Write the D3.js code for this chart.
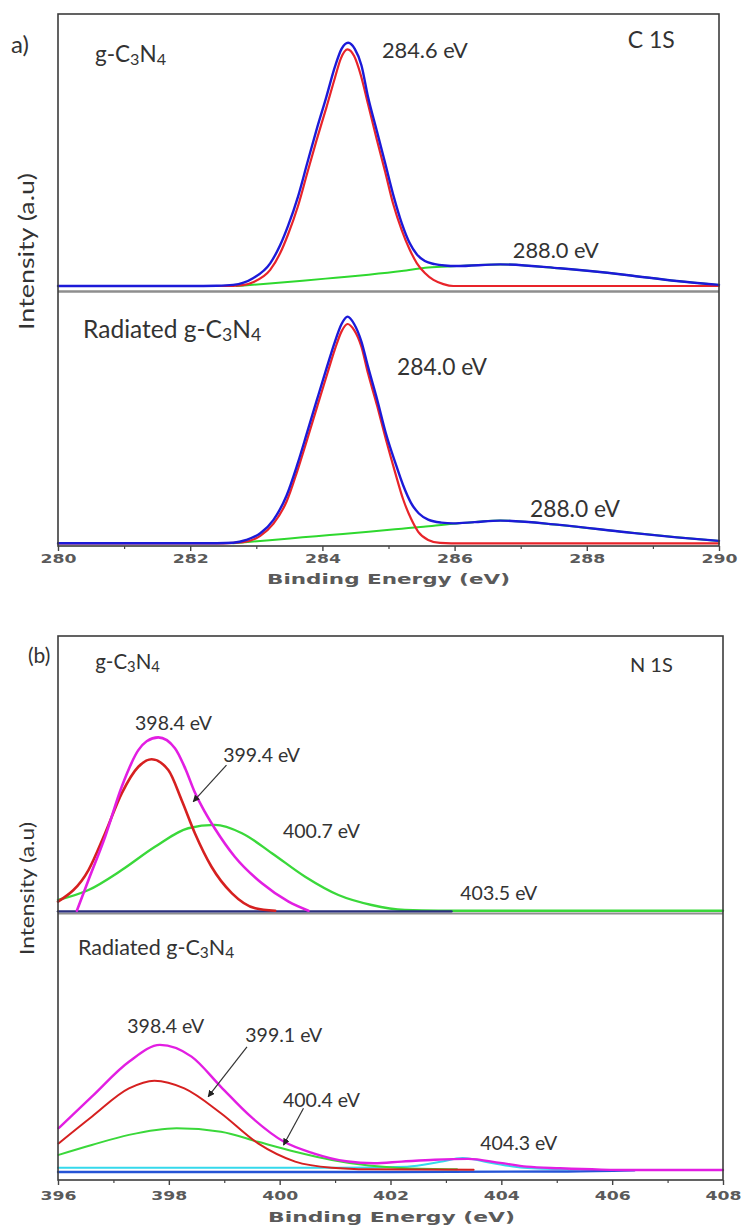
<!DOCTYPE html>
<html>
<head>
<meta charset="utf-8">
<script src="https://cdn.jsdelivr.net/npm/d3@7"></script>
<style>
  body { margin: 0; background: #fff; }
  svg { display: block; }
</style>
</head>
<body>
<svg id="fig" width="745" height="1228"></svg>
<script>
// ---------------- data ----------------
// tick values of the binding-energy axes (eV)
const c1sTicks = [280, 282, 284, 286, 288, 290];
const c1sMinorTicks = [281, 283, 285, 287, 289];
const n1sTicks = [396, 398, 400, 402, 404, 406, 408];
const n1sMinorTicks = [397, 399, 401, 403, 405, 407];

// C 1s, pristine g-C3N4 : [binding energy (eV), intensity (a.u.)]
const c1sPristineEnvelope = [[280,1.8],[282.0,1.8],[282.4,1.9],[282.65,2.2],[282.95,4.6],[283.21,10.0],[283.36,16.5],[283.48,23.5],[283.63,34.0],[283.77,46.1],[283.91,58.1],[284.06,70.1],[284.19,81.0],[284.29,87.4],[284.39,89.6],[284.49,87.4],[284.59,81.5],[284.69,70.1],[284.82,58.1],[284.95,46.1],[285.08,34.0],[285.2,24.5],[285.32,17.3],[285.43,13.2],[285.55,10.8],[285.7,9.7],[285.85,9.2],[286.03,9.0],[286.69,9.6],[287.59,8.2],[288.6,5.8],[289.36,3.6],[290,2.2]];
const c1sPristineCC = [[280,1.8],[282.5,1.8],[282.8,2.1],[282.95,3.2],[283.21,7.6],[283.36,13.6],[283.48,20.4],[283.63,30.6],[283.77,42.5],[283.91,54.3],[284.06,66.2],[284.19,77.0],[284.28,84.0],[284.38,87.2],[284.48,84.8],[284.58,78.0],[284.69,67.5],[284.82,55.0],[284.95,43.0],[285.07,31.5],[285.2,22.0],[285.32,15.0],[285.43,10.0],[285.55,6.5],[285.68,4.0],[285.83,2.5],[285.98,1.8],[290,1.8]];
const c1sPristineNCN = [[282.7,1.8],[283.2,2.7],[283.7,3.7],[284.2,4.8],[284.7,5.9],[285.2,7.2],[285.6,8.5],[286.03,9.0],[286.69,9.6],[287.59,8.2],[288.6,5.8],[289.36,3.6],[290,2.2]];

// C 1s, radiated g-C3N4
const c1sRadiatedEnvelope = [[280,1.06],[282.0,1.06],[282.4,1.1],[282.65,1.3],[282.85,2.4],[283.06,5.0],[283.26,10.3],[283.46,20.0],[283.62,32.0],[283.77,44.8],[283.92,57.8],[284.07,70.6],[284.19,80.5],[284.29,87.4],[284.38,90.3],[284.48,87.4],[284.59,80.5],[284.69,70.6],[284.83,57.5],[284.96,44.4],[285.1,33.0],[285.22,24.0],[285.34,17.0],[285.46,12.8],[285.6,10.4],[285.8,9.2],[285.98,8.9],[286.3,9.4],[286.69,10.0],[287.59,8.3],[288.6,5.4],[289.36,3.4],[290,2.0]];
const c1sRadiatedCC = [[280,1.06],[282.5,1.06],[282.8,1.5],[283.06,4.0],[283.26,8.8],[283.46,17.6],[283.62,29.5],[283.77,42.0],[283.92,54.8],[284.07,67.5],[284.19,77.5],[284.29,84.5],[284.38,87.4],[284.48,85.0],[284.59,78.5],[284.69,68.0],[284.83,55.0],[284.96,42.0],[285.1,29.0],[285.22,18.5],[285.34,10.8],[285.45,5.6],[285.6,2.4],[285.78,1.2],[285.95,1.06],[290,1.06]];
const c1sRadiatedNCN = [[282.65,1.06],[283.2,2.3],[283.7,3.4],[284.11,4.3],[284.7,5.6],[285.2,6.8],[285.53,7.6],[285.98,8.8],[286.3,9.4],[286.69,10.0],[287.59,8.3],[288.6,5.4],[289.36,3.4],[290,2.0]];

// N 1s, pristine g-C3N4
const n1sPristineEnvelope = [[396.34,0.83],[396.55,11.9],[396.85,27.5],[397.15,45.6],[397.45,58.8],[397.6,62.0],[397.81,63.4],[398.11,59.5],[398.3,52.0],[398.47,43.5],[398.65,36.5],[398.83,30.5],[399.19,20.3],[399.68,10.7],[400.16,4.1],[400.52,0.83]];
const n1sPristineCNC = [[396.0,4.1],[396.55,15.5],[396.85,28.8],[397.15,43.2],[397.45,52.8],[397.69,55.5],[397.99,51.6],[398.23,40.8],[398.47,28.8],[398.77,16.7],[399.14,7.1],[399.56,1.7],[399.92,0.83]];
const n1sPristineNC3 = [[396.0,4.7],[396.55,8.3],[397.15,15.5],[397.75,23.9],[398.35,30.6],[398.83,31.8],[399.32,28.8],[399.86,21.6],[400.46,13.1],[401.06,6.5],[401.66,2.9],[402.26,1.1],[402.86,0.83],[408,0.83]];
const n1sPristineBase = [[396,0.6],[403.1,0.6]];

// N 1s, radiated g-C3N4
const n1sRadiatedEnvelope = [[396.01,19.4],[396.61,31.2],[397.28,44.3],[397.84,50.6],[398.41,46.2],[398.94,34.9],[399.48,23.7],[400.08,14.3],[400.61,10.0],[401.2,7.0],[401.7,6.3],[402.2,6.9],[402.8,7.6],[403.4,7.9],[403.98,6.4],[404.46,5.0],[405.06,4.4],[405.8,3.9],[406.38,3.75],[408,3.75]];
const n1sRadiatedCNC = [[396.01,13.7],[396.61,23.7],[397.28,34.3],[397.74,37.2],[398.28,34.3],[398.94,25.0],[399.61,13.7],[400.28,6.9],[400.94,4.6],[401.61,4.0],[403.5,3.8]];
const n1sRadiatedNC3 = [[396.01,9.4],[396.61,13.1],[397.28,16.9],[398.14,19.4],[398.94,18.1],[399.61,14.3],[400.28,10.6],[400.94,7.5],[401.61,5.4],[402.27,4.4],[403.2,4.0]];
const n1sRadiatedPi = [[396,4.6],[401,4.6],[402.3,5.0],[402.9,6.8],[403.3,8.2],[403.8,6.5],[404.4,4.6],[405.2,4.0]];
const n1sRadiatedBase = [[396,3.0],[402,3.0],[405.2,3.2],[406.4,3.6]];

// peak annotations: text, anchor [eV, intensity]
const c1sPristineLabels = [["284.6 eV", 284.90, 84.1], ["288.0 eV", 286.88, 11.9]];
const c1sRadiatedLabels = [["284.0 eV", 285.13, 67.3], ["288.0 eV", 287.14, 11.4]];
const n1sPristineLabels = [["398.4 eV", 397.39, 66.1], ["399.4 eV", 398.98, 54.5], ["400.7 eV", 400.06, 27.1], ["403.5 eV", 403.26, 4.7]];
const n1sRadiatedLabels = [["398.4 eV", 397.25, 55.1], ["399.1 eV", 399.38, 51.7], ["400.4 eV", 400.06, 27.3], ["404.3 eV", 403.62, 11.2]];
// arrows: [from eV, from intensity, to eV, to intensity]
const n1sPristineArrows = [[399.04, 53.4, 398.44, 40.2]];
const n1sRadiatedArrows = [[399.41, 49.9, 398.71, 31.2], [400.43, 26.9, 400.07, 13.1]];

// ---------------- drawing ----------------
const svg = d3.select("#fig");
svg.append("rect").attr("width", 745).attr("height", 1228).attr("fill", "#fff");

const LABEL_FONT = "Lato, 'Open Sans', sans-serif";
const AXIS_FONT = "'DejaVu Sans', Verdana, sans-serif";
const INK = "#333";

const defs = svg.append("defs");
defs.append("marker")
  .attr("id", "arrowhead")
  .attr("viewBox", "0 0 10 10")
  .attr("refX", 9).attr("refY", 5)
  .attr("markerWidth", 7).attr("markerHeight", 7)
  .attr("markerUnits", "userSpaceOnUse")
  .attr("orient", "auto")
  .append("path").attr("d", "M0,0 L10,5 L0,10 z").attr("fill", "#222");

function drawCurve(g, data, x, y, color, width) {
  const line = d3.line().x(d => x(d[0])).y(d => y(d[1])).curve(d3.curveMonotoneX);
  g.append("path").datum(data)
    .attr("d", line)
    .attr("fill", "none")
    .attr("stroke", color)
    .attr("stroke-width", width)
    .attr("stroke-linejoin", "round")
    .attr("stroke-linecap", "round");
}

// sample name with subscripted atom counts
function sampleName(g, prefix, xPos, yPos, size) {
  const t = g.append("text").attr("x", xPos).attr("y", yPos)
    .attr("font-family", LABEL_FONT).attr("font-size", size).attr("fill", INK);
  const parts = [[prefix + "g-C", false], ["3", true], ["N", false], ["4", true]];
  parts.forEach(([s, sub]) => {
    t.append("tspan")
      .attr("font-size", sub ? size * 0.72 : size)
      .attr("dy", sub ? size * 0.13 : (s === "N" ? -size * 0.13 : 0))
      .text(s);
  });
  return t;
}

function plainText(g, txt, xPos, yPos, size) {
  g.append("text").attr("x", xPos).attr("y", yPos)
    .attr("font-family", LABEL_FONT).attr("font-size", size)
    .attr("fill", INK).text(txt);
}

function peakLabels(g, labels, x, y, size) {
  labels.forEach(([txt, e, v]) => plainText(g, txt, x(e), y(v), size));
}

function arrows(g, list, x, y) {
  list.forEach(([e0, v0, e1, v1]) => {
    g.append("line")
      .attr("x1", x(e0)).attr("y1", y(v0)).attr("x2", x(e1)).attr("y2", y(v1))
      .attr("stroke", "#333").attr("stroke-width", 1.2)
      .attr("marker-end", "url(#arrowhead)");
  });
}

function energyAxis(g, x, yPos, ticks, minor, labelY, titleX, titleY, titleLen) {
  const major = g.append("g").attr("transform", `translate(0,${yPos})`)
    .call(d3.axisBottom(x).tickValues(ticks).tickSize(5).tickFormat(d3.format("d")));
  major.select(".domain").remove();
  major.selectAll(".tick line").attr("stroke", "#444").attr("stroke-width", 1.4);
  major.selectAll(".tick text")
    .attr("y", labelY - yPos).attr("dy", null)
    .attr("font-family", AXIS_FONT).attr("font-weight", "bold")
    .attr("font-size", 12).attr("fill", "#5a5a5a")
    .attr("textLength", 36).attr("lengthAdjust", "spacingAndGlyphs");
  const mn = g.append("g").attr("transform", `translate(0,${yPos})`)
    .call(d3.axisBottom(x).tickValues(minor).tickSize(3).tickFormat(""));
  mn.select(".domain").remove();
  mn.selectAll(".tick line").attr("stroke", "#444").attr("stroke-width", 1.2);

  g.append("text")
    .attr("x", titleX).attr("y", titleY)
    .attr("font-family", AXIS_FONT).attr("font-weight", "bold")
    .attr("font-size", 14).attr("fill", "#5a5a5a")
    .attr("textLength", titleLen).attr("lengthAdjust", "spacingAndGlyphs")
    .text("Binding Energy (eV)");
}

function intensityTitle(g, cx, cy, size, len) {
  g.append("text")
    .attr("transform", `translate(${cx},${cy}) rotate(-90)`)
    .attr("text-anchor", "middle")
    .attr("font-family", LABEL_FONT).attr("font-size", size)
    .attr("fill", INK)
    .attr("textLength", len).attr("lengthAdjust", "spacingAndGlyphs")
    .text("Intensity (a.u)");
}

// ======== (a) C 1s ========
{
  const g = svg.append("g");
  const x = d3.scaleLinear().domain([280, 290]).range([58, 719]);
  const yUp = d3.scaleLinear().domain([0, 100]).range([291, 14]);
  const yLo = d3.scaleLinear().domain([0, 100]).range([546, 292]);

  // divider between the two spectra
  g.append("line").attr("x1", 58).attr("x2", 719).attr("y1", 291.5).attr("y2", 291.5)
    .attr("stroke", "#8e8e8e").attr("stroke-width", 2.6);

  drawCurve(g, c1sPristineNCN, x, yUp, "#2ed82e", 2);
  drawCurve(g, c1sPristineCC, x, yUp, "#e8242a", 2.2);
  drawCurve(g, c1sPristineEnvelope, x, yUp, "#1c1ad8", 2.4);

  drawCurve(g, c1sRadiatedNCN, x, yLo, "#2ed82e", 2);
  drawCurve(g, c1sRadiatedCC, x, yLo, "#e8242a", 2.2);
  drawCurve(g, c1sRadiatedEnvelope, x, yLo, "#1c1ad8", 2.4);

  g.append("rect").attr("x", 58).attr("y", 14).attr("width", 661).attr("height", 532)
    .attr("fill", "none").attr("stroke", "#3c3c3c").attr("stroke-width", 1.6);

  energyAxis(g, x, 546, c1sTicks, c1sMinorTicks, 563, 267, 584, 243);
  intensityTitle(g, 34, 251.5, 21, 157);

  plainText(g, "a)", 11, 53, 24);
  sampleName(g, "", x(280.56), yUp(82.7), 22.5);
  plainText(g, "C 1S", x(288.62), yUp(87.7), 23);
  sampleName(g, "Radiated ", x(280.38), yLo(81.9), 24.5);
  peakLabels(g, c1sPristineLabels, x, yUp, 21.8);
  peakLabels(g, c1sRadiatedLabels, x, yLo, 22.8);
}

// ======== (b) N 1s ========
{
  const g = svg.append("g");
  const x = d3.scaleLinear().domain([396, 408]).range([58, 723]);
  const yUp = d3.scaleLinear().domain([0, 100]).range([913, 636]);
  const yLo = d3.scaleLinear().domain([0, 100]).range([1180, 913]);

  g.append("line").attr("x1", 58).attr("x2", 723).attr("y1", 913.5).attr("y2", 913.5)
    .attr("stroke", "#8e8e8e").attr("stroke-width", 2);

  drawCurve(g, n1sPristineNC3, x, yUp, "#3ad83a", 2.4);
  drawCurve(g, n1sPristineBase, x, yUp, "#2b2f7e", 2.4);
  drawCurve(g, n1sPristineCNC, x, yUp, "#d62020", 2.6);
  drawCurve(g, n1sPristineEnvelope, x, yUp, "#e21ee2", 2.6);

  drawCurve(g, n1sRadiatedBase, x, yLo, "#2554d6", 2.4);
  drawCurve(g, n1sRadiatedPi, x, yLo, "#35d9ec", 2);
  drawCurve(g, n1sRadiatedNC3, x, yLo, "#3ad83a", 2);
  drawCurve(g, n1sRadiatedCNC, x, yLo, "#d62020", 2);
  drawCurve(g, n1sRadiatedEnvelope, x, yLo, "#e21ee2", 2.4);

  g.append("rect").attr("x", 58).attr("y", 636).attr("width", 665).attr("height", 544)
    .attr("fill", "none").attr("stroke", "#3c3c3c").attr("stroke-width", 1.6);

  energyAxis(g, x, 1180, n1sTicks, n1sMinorTicks, 1200, 268, 1222, 247);
  intensityTitle(g, 34, 888.5, 19, 133);

  plainText(g, "(b)", 28, 663, 21);
  sampleName(g, "", x(396.67), yUp(88.1), 20.5);
  plainText(g, "N 1S", x(406.32), yUp(87.0), 20);
  sampleName(g, "Radiated ", x(396.36), yLo(84.3), 21.5);
  peakLabels(g, n1sPristineLabels, x, yUp, 19.5);
  peakLabels(g, n1sRadiatedLabels, x, yLo, 19.5);
  arrows(g, n1sPristineArrows, x, yUp);
  arrows(g, n1sRadiatedArrows, x, yLo);
}
</script>
</body>
</html>
